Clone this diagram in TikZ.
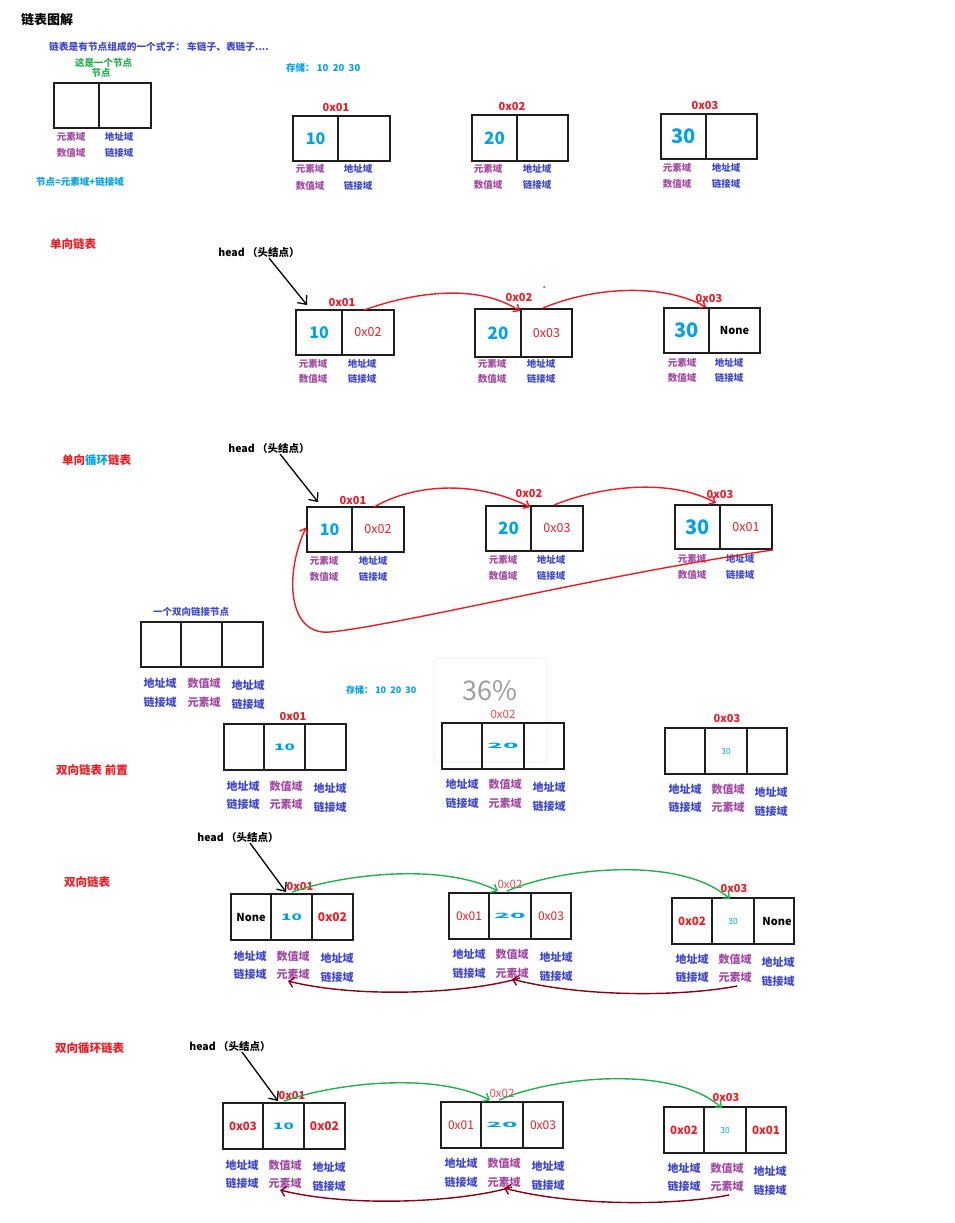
\documentclass[tikz,border=0pt]{standalone}
\usepackage{fontspec}
\setmainfont{Noto Sans CJK SC}
\usepackage{graphicx}
\usetikzlibrary{arrows.meta}
\definecolor{pblue}{HTML}{3F48CC}
\definecolor{ppurple}{HTML}{A349A4}
\definecolor{pred}{HTML}{ED1C24}
\definecolor{plred}{HTML}{F04A50}
\definecolor{pcyan}{HTML}{00A2E8}
\definecolor{pgreen}{HTML}{22B14C}
\definecolor{pdred}{HTML}{880015}
\definecolor{boxc}{HTML}{1E1E1E}
\tikzset{
 cellbox/.style={draw=boxc, line width=1.9pt, inner sep=0pt},
 lab/.style={inner sep=0pt, font=\bfseries\fontsize{9.5}{10}\selectfont},
 labb/.style={lab, text=pblue}, labp/.style={lab, text=ppurple},
 biglab/.style={inner sep=0pt, font=\bfseries\fontsize{11}{12}\selectfont},
 bigb/.style={biglab, text=pblue}, bigp/.style={biglab, text=ppurple},
 addr/.style={inner sep=0pt, text=pred, font=\bfseries\fontsize{11}{12}\selectfont},
 addrl/.style={inner sep=0pt, text=plred, font=\fontsize{11.5}{12}\selectfont},
 sect/.style={inner sep=0pt, anchor=west, text=pred, font=\bfseries\fontsize{11.5}{13}\selectfont},
 headlab/.style={inner sep=0pt, font=\bfseries\fontsize{10.5}{12}\selectfont},
 blkarr/.style={draw=black, line width=1.3pt, -{Straight Barb[length=7pt,width=12pt]}},
 redarr/.style={draw=pred, line width=1.4pt, -{Straight Barb[length=5pt,width=9pt]}},
 grnarr/.style={draw=pgreen, line width=1.4pt, -{Straight Barb[length=5pt,width=9pt]}},
 drdarr/.style={draw=pdred, line width=1.4pt, -{Straight Barb[length=5pt,width=10pt]}}
}
\newcommand{\mkcell}[6]{\node[cellbox, minimum width={(#4-#2)*1pt}, minimum height={(#5-#3)*1pt}] (#1) at ({(#2+#4)/2},{(#3+#5)/2}) {#6};}
\newcommand{\cyannum}[2]{\textcolor{pcyan}{\fontsize{#1}{#1}\selectfont\bfseries #2}}
\newcommand{\redreg}[2]{\textcolor{pred}{\fontsize{#1}{#1}\selectfont #2}}
\newcommand{\redbold}[2]{\textcolor{pred}{\fontsize{#1}{#1}\selectfont\bfseries #2}}
\newcommand{\blkbold}[1]{{\fontsize{11}{11}\selectfont\bfseries #1}}
\newcommand{\tenwide}{\textcolor{pcyan}{\scalebox{1.9}[1]{\fontsize{9}{9}\selectfont\bfseries 10}}}
\newcommand{\twwide}{\textcolor{pcyan}{\scalebox{3}[0.85]{\fontsize{8.5}{9}\selectfont\bfseries 20}}}
\newcommand{\thsmall}{\textcolor{pcyan}{\fontsize{8.5}{9}\selectfont 30}}
\newcommand{\twolabels}[5]{%
 \node[labp] (#1p) at (#2,#4) {元素域};
 \node[labp] (#1q) at (#2,#5) {数值域};
 \node[labb] (#1r) at (#3,#4) {地址域};
 \node[labb] (#1s) at (#3,#5) {链接域};}
\newcommand{\dbllabels}[1]{%
 \node[bigb] (#1l1) at (250,956) {地址域};
 \node[bigb] (#1l2) at (250,974) {链接域};
 \node[bigp] (#1l3) at (293,956) {数值域};
 \node[bigp] (#1l4) at (293,974) {元素域};
 \node[bigb] (#1l5) at (337,958) {地址域};
 \node[bigb] (#1l6) at (337,977) {链接域};
 \node[bigb] (#1l7) at (469,954) {地址域};
 \node[bigb] (#1l8) at (469,973) {链接域};
 \node[bigp] (#1l9) at (512,954) {数值域};
 \node[bigp] (#1l10) at (512,973) {元素域};
 \node[bigb] (#1l11) at (556,957) {地址域};
 \node[bigb] (#1l12) at (556,976) {链接域};
 \node[bigb] (#1l13) at (692,959) {地址域};
 \node[bigb] (#1l14) at (692,977) {链接域};
 \node[bigp] (#1l15) at (735,959) {数值域};
 \node[bigp] (#1l16) at (735,977) {元素域};
 \node[bigb] (#1l17) at (778,962) {地址域};
 \node[bigb] (#1l18) at (778,981) {链接域};}
\newcommand{\dblarrows}[1]{%
 \draw[grnarr] ([xshift=22pt,yshift=1pt]#1b12.north west) .. controls (340,875) and (440,862) .. ([xshift=10pt,yshift=1pt]#1b22.north west);
 \draw[grnarr] ([xshift=19pt,yshift=1pt]#1b22.north west) .. controls (560,868) and (680,855) .. ([xshift=19pt,yshift=-2pt]#1b32.north west);
 \draw[drdarr] ([xshift=2pt,yshift=-9pt]#1l16.center) .. controls (680,997) and (580,997) .. ([yshift=-6pt]#1l10.center);
 \draw[drdarr] ([xshift=8pt,yshift=-5pt]#1l10.center) .. controls (470,993) and (360,999) .. ([xshift=-5pt,yshift=-7pt]#1l4.center);}
\begin{document}
\begin{tikzpicture}[x=1pt,y=-1pt]
\useasboundingbox (0,0) rectangle (954,1223);
\fill[white] (0,0) rectangle (954,1223);

% ---------- section 1 ----------
\node[inner sep=0pt, font=\bfseries\fontsize{13}{14}\selectfont] (title) at (47,20) {链表图解};
\node[anchor=west, text=pblue, inner sep=0pt, font=\bfseries\fontsize{9.7}{11}\selectfont] (desc) at (49,47) {链表是有节点组成的一个式子： 车链子、表链子....};
\node[lab, text=pgreen] (g1) at (103.5,63) {这是一个节点};
\node[lab, text=pgreen] (g2) at (101,73) {节点};
\mkcell{e1}{54}{83}{99}{128}{}
\mkcell{e2}{99}{83}{151}{128}{}
\twolabels{el}{71}{119}{137}{153}
\node[lab, anchor=west, text=pcyan] (eq) at (36,182) {节点=元素域+链接域};
\node[lab, anchor=west, text=pcyan] (st1) at (286,68) {存储：\ 10\ \ 20\ \ 30};

\node[addr] (t1l) at (336,108) {0x01};
\node[addr] (t2l) at (512,107) {0x02};
\node[addr] (t3l) at (705,106) {0x03};
\mkcell{t1a}{293}{116}{338}{161}{\cyannum{16}{10}}
\mkcell{t1b}{338}{116}{390}{161}{}
\mkcell{t2a}{472}{115}{517}{161}{\cyannum{17}{20}}
\mkcell{t2b}{517}{115}{568}{161}{}
\mkcell{t3a}{661}{114}{706}{159}{\cyannum{20}{30}}
\mkcell{t3b}{706}{114}{757}{159}{}
\twolabels{t1}{310}{358}{169}{186}
\twolabels{t2}{488}{537}{169}{185}
\twolabels{t3}{677}{726}{168}{184}

% ---------- section 2 ----------
\node[sect] (sec2) at (50,244) {单向链表};
\node[headlab] (h2) at (259,253) {head （头结点）};
\node[addr] (s2al) at (342,303) {0x01};
\node[addr] (s2bl) at (519,298) {0x02};
\node[addr] (s2cl) at (709,299) {0x03};
\mkcell{s2a1}{296}{310}{342}{355}{\cyannum{16}{10}}
\mkcell{s2a2}{342}{310}{394}{355}{\raisebox{-3pt}{\redreg{12.5}{0x02}}}
\mkcell{s2b1}{475}{309}{521}{357}{\cyannum{17}{20}}
\mkcell{s2b2}{521}{309}{572}{357}{\raisebox{-4pt}{\redreg{12.5}{0x03}}}
\mkcell{s2c1}{664}{308}{709}{353}{\cyannum{20}{30}}
\mkcell{s2c2}{709}{308}{760}{353}{\blkbold{None}}
\twolabels{s2a}{313}{362}{364}{379}
\twolabels{s2b}{492}{541}{364}{379}
\twolabels{s2c}{682}{729}{363}{378}
\draw[blkarr] ([xshift=10pt,yshift=-5pt]h2.center) -- ([xshift=12pt,yshift=4pt]s2a1.north west);
\draw[redarr] ([xshift=23pt,yshift=-1pt]s2a2.north west) .. controls (420,290) and (480,285) .. ([yshift=-3pt]s2b2.north west);
\draw[redarr] ([xshift=23pt]s2b2.north west) .. controls (590,288) and (660,282) .. ([xshift=-2pt]s2c2.north west);
\fill[pred] (544,287) circle (1pt);

% ---------- section 3 ----------
\node[sect] (sec3) at (62,460) {单向\textcolor{pcyan}{循环}链表};
\node[headlab] (h3) at (269,449) {head （头结点）};
\node[addr] (s3al) at (353,501) {0x01};
\node[addr] (s3bl) at (529,494) {0x02};
\node[addr] (s3cl) at (720,495) {0x03};
\mkcell{s3a1}{307}{507}{352}{552}{\cyannum{16}{10}}
\mkcell{s3a2}{352}{507}{404}{552}{\raisebox{-2pt}{\redreg{12.5}{0x02}}}
\mkcell{s3b1}{486}{506}{531}{551}{\cyannum{17}{20}}
\mkcell{s3b2}{531}{506}{583}{551}{\raisebox{-4pt}{\redreg{12.5}{0x03}}}
\mkcell{s3c1}{675}{505}{720}{549}{\cyannum{20}{30}}
\mkcell{s3c2}{720}{505}{772}{549}{\raisebox{-5pt}{\redreg{12.5}{0x01}}}
\twolabels{s3a}{324}{373}{561}{577}
\twolabels{s3b}{503}{551}{560}{576}
\twolabels{s3c}{692}{740}{559}{575}
\draw[blkarr] ([xshift=11pt,yshift=-5pt]h3.center) -- ([xshift=12pt,yshift=4pt]s3a1.north west);
\draw[redarr] ([xshift=23pt,yshift=-1pt]s3a2.north west) .. controls (410,486) and (470,478) .. ([yshift=-2pt]s3b2.north west);
\draw[redarr] ([xshift=24pt]s3b2.north west) .. controls (600,486) and (670,478) .. ([xshift=-3pt,yshift=1pt]s3c2.north west);
\draw[redarr] (s3c2.south east) .. controls (600,575) and (400,625) .. (330,632) .. controls (288,636) and (284,575) .. ([yshift=2pt]s3a1.west);

% ---------- section 4 ----------
\node[lab, text=pblue] (dn) at (191,612) {一个双向链接节点};
\mkcell{q1}{141}{622}{181}{667}{}
\mkcell{q2}{181}{622}{222}{667}{}
\mkcell{q3}{222}{622}{263}{667}{}
\node[bigb] (ql1) at (160,683) {地址域};
\node[bigb] (ql2) at (160,702) {链接域};
\node[bigp] (ql3) at (204,683) {数值域};
\node[bigp] (ql4) at (204,702) {元素域};
\node[bigb] (ql5) at (248,685) {地址域};
\node[bigb] (ql6) at (248,704) {链接域};
\node[lab, anchor=west, text=pcyan, font=\bfseries\fontsize{9}{10}\selectfont] (st2) at (346,690) {存储：\ 10\ \ 20\ \ 30};
\node[draw=black!7, line width=0.8pt, rounded corners=4pt, minimum width=113pt, minimum height=104pt] (wm) at (490.5,710) {};
\node[text=black!38, inner sep=0pt, font=\fontsize{27}{27}\selectfont] (wmt) at (490,691) {36\%};
\node[sect] (sec4) at (56,770) {双向链表 前置};
\begin{scope}[shift={(-7,-170)}]
\node[addr] (s4al) at (300,886) {0x01};
\node[addrl] (s4bl) at (510,884) {0x02};
\node[addr] (s4cl) at (734,888) {0x03};
\mkcell{s4b11}{231}{894}{271}{940}{}
\mkcell{s4b12}{271}{894}{312}{940}{\tenwide}
\mkcell{s4b13}{312}{894}{353}{940}{}
\mkcell{s4b21}{449}{893}{489}{939}{}
\mkcell{s4b22}{489}{893}{531}{939}{\twwide}
\mkcell{s4b23}{531}{893}{571}{939}{}
\mkcell{s4b31}{672}{898}{712}{944}{}
\mkcell{s4b32}{712}{898}{754}{944}{\thsmall}
\mkcell{s4b33}{754}{898}{794}{944}{}
\dbllabels{s4}
\end{scope}

% ---------- section 5 ----------
\node[sect] (sec5) at (64,882) {双向链表};
\node[headlab] (h5) at (238,837) {head （头结点）};
\node[addr] (s5al) at (300,886) {0x01};
\node[addrl] (s5bl) at (510,884) {0x02};
\node[addr] (s5cl) at (734,888) {0x03};
\mkcell{s5b11}{231}{894}{271}{940}{\raisebox{-3pt}{\blkbold{None}}}
\mkcell{s5b12}{271}{894}{312}{940}{\tenwide}
\mkcell{s5b13}{312}{894}{353}{940}{\redbold{12}{0x02}}
\mkcell{s5b21}{449}{893}{489}{939}{\raisebox{-5pt}{\redreg{12}{0x01}}}
\mkcell{s5b22}{489}{893}{531}{939}{\twwide}
\mkcell{s5b23}{531}{893}{571}{939}{\raisebox{-3pt}{\redreg{12}{0x03}}}
\mkcell{s5b31}{672}{898}{712}{944}{\raisebox{-3pt}{\redbold{11.5}{0x02}}}
\mkcell{s5b32}{712}{898}{754}{944}{\thsmall}
\mkcell{s5b33}{754}{898}{794}{944}{\hspace*{6pt}\blkbold{None}}
\dbllabels{s5}
\draw[blkarr] ([xshift=12pt,yshift=-6pt]h5.center) -- ([xshift=16pt,yshift=1pt]s5b12.north west);
\dblarrows{s5}

% ---------- section 6 ----------
\node[sect] (sec6) at (55,1048) {双向循环链表};
\begin{scope}[shift={(-8,209)}]
\node[headlab] (h6) at (238,837) {head （头结点）};
\node[addr] (s6al) at (300,886) {0x01};
\node[addrl] (s6bl) at (510,884) {0x02};
\node[addr] (s6cl) at (734,888) {0x03};
\mkcell{s6b11}{231}{894}{271}{940}{\raisebox{-6pt}{\redbold{11.5}{0x03}}}
\mkcell{s6b12}{271}{894}{312}{940}{\tenwide}
\mkcell{s6b13}{312}{894}{353}{940}{\redbold{12}{0x02}}
\mkcell{s6b21}{449}{893}{489}{939}{\raisebox{-7pt}{\redreg{12}{0x01}}}
\mkcell{s6b22}{489}{893}{531}{939}{\twwide}
\mkcell{s6b23}{531}{893}{571}{939}{\raisebox{-2pt}{\redreg{12}{0x03}}}
\mkcell{s6b31}{672}{898}{712}{944}{\raisebox{-3pt}{\redbold{11.5}{0x02}}}
\mkcell{s6b32}{712}{898}{754}{944}{\thsmall}
\mkcell{s6b33}{754}{898}{794}{944}{\redbold{11.5}{0x01}}
\dbllabels{s6}
\draw[blkarr] ([xshift=12pt,yshift=-6pt]h6.center) -- ([xshift=16pt,yshift=1pt]s6b12.north west);
\dblarrows{s6}
\end{scope}
\end{tikzpicture}
\end{document}
